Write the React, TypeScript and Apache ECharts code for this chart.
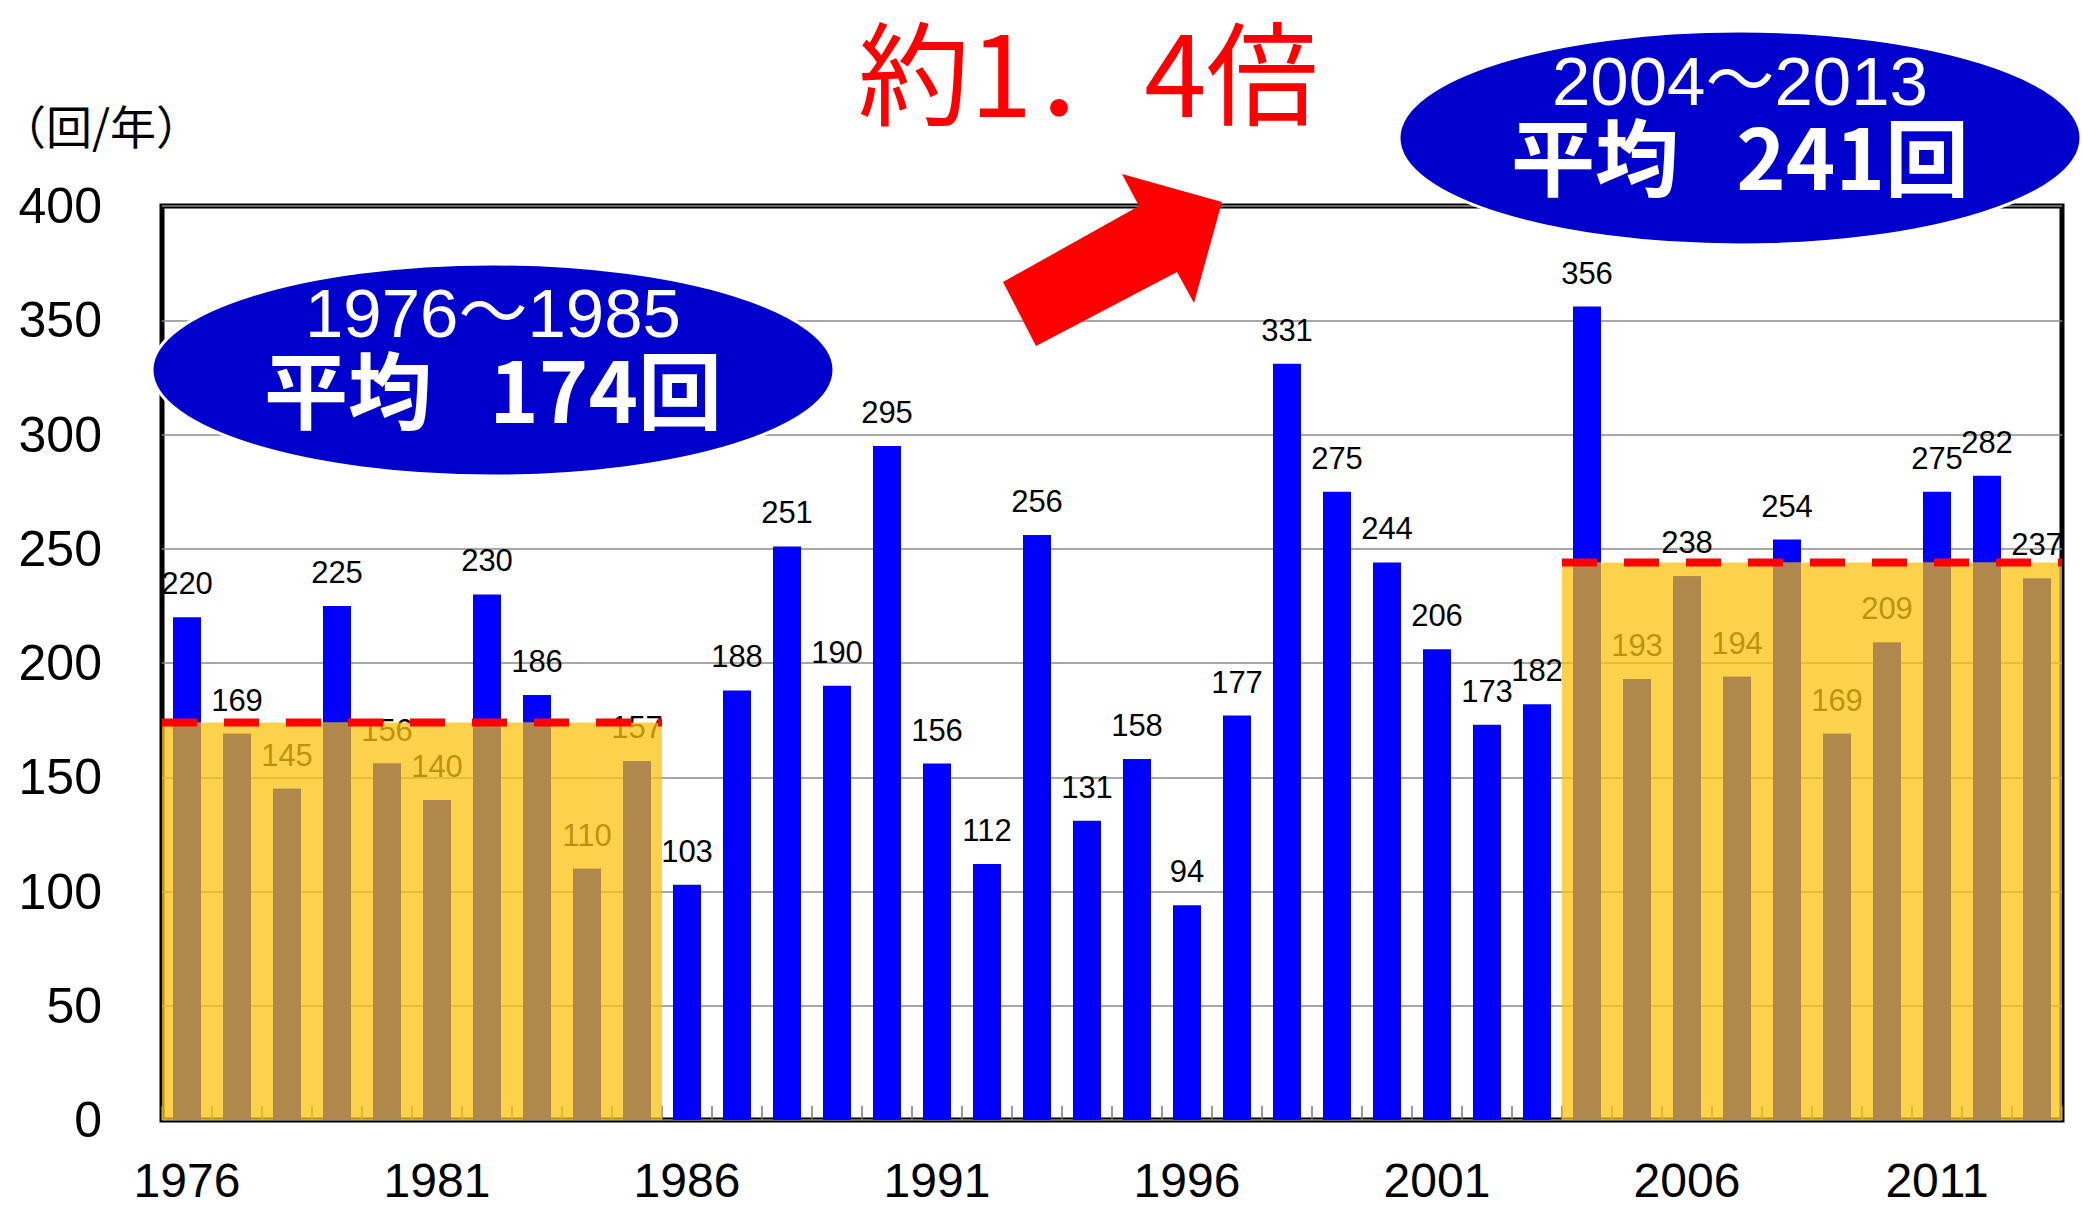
import React, { useEffect, useRef } from "react";
import * as echarts from "echarts";

// ---- data ----
const years = [
  "1976", "1977", "1978", "1979", "1980", "1981", "1982", "1983", "1984", "1985",
  "1986", "1987", "1988", "1989", "1990", "1991", "1992", "1993", "1994", "1995",
  "1996", "1997", "1998", "1999", "2000", "2001", "2002", "2003", "2004", "2005",
  "2006", "2007", "2008", "2009", "2010", "2011", "2012", "2013",
];
const counts = [
  220, 169, 145, 225, 156, 140, 230, 186, 110, 157,
  103, 188, 251, 190, 295, 156, 112, 256, 131, 158,
  94, 177, 331, 275, 244, 206, 173, 182, 356, 193,
  238, 194, 254, 169, 209, 275, 282, 237,
];
const yMin = 0;
const yMax = 400;
const yStep = 50;
const periodStart = ["1976", "2004"];
const periodEnd = ["1985", "2013"];
const periodLevel = [174, 244];
const periodRangeText = ["1976～1985", "2004～2013"];
const periodMeanText = ["平均   174回", "平均   241回"];
const ratioText = "約1．4倍";
const unitText = "（回/年）";

const LATIN = '"Liberation Sans", Arial, "Noto Sans CJK JP", sans-serif';
const CJK = '"Noto Sans CJK JP", "Liberation Sans", sans-serif';

export default function App() {
  const ref = useRef<HTMLDivElement>(null);

  useEffect(() => {
    if (!ref.current) return;
    const chart = echarts.init(ref.current, undefined, { renderer: "svg" });

    const periods = periodStart.map((s, i) => [
      years.indexOf(s),
      years.indexOf(periodEnd[i]),
      periodLevel[i],
    ]);
    const periodOf = (i: number) => periods.find((p) => i >= p[0] && i <= p[1]);
    const clipped = counts.map((v, i) => {
      const p = periodOf(i);
      return p ? Math.min(v, p[2]) : "-";
    });

    const overlay = (params: any, api: any) => {
      const s = api.value(0);
      const e = api.value(1);
      const lvl = api.value(2);
      const bw = api.size([1, 0])[0];
      const top = api.coord([s, lvl]);
      const bottom = api.coord([e, 0]);
      const x0 = top[0] - bw / 2;
      const x1 = bottom[0] + bw / 2;
      return {
        type: "rect",
        shape: { x: x0, y: top[1], width: x1 - x0, height: bottom[1] - top[1] },
        style: { fill: "rgba(251,195,16,0.75)" },
      };
    };

    const dash = (params: any, api: any) => {
      const s = api.value(0);
      const e = api.value(1);
      const lvl = api.value(2);
      const bw = api.size([1, 0])[0];
      const p0 = api.coord([s, lvl]);
      const p1 = api.coord([e, lvl]);
      return {
        type: "line",
        shape: { x1: p0[0] - bw / 2, y1: p0[1], x2: p1[0] + bw / 2, y2: p1[1] },
        style: { stroke: "#FF0000", lineWidth: 8, lineDash: [35, 27] },
      };
    };

    const textEl = (
      x: number,
      y: number,
      text: string,
      size: number,
      lineHeight: number,
      family: string,
      color: string,
      weight: string,
      shadow: boolean,
      align = "center"
    ) => ({
      type: "text",
      z: 101,
      x,
      y,
      silent: true,
      style: {
        text,
        fill: color,
        fontSize: size,
        lineHeight,
        fontFamily: family,
        fontWeight: weight,
        textAlign: align,
        align,
        textVerticalAlign: "middle",
        verticalAlign: "middle",
        ...(shadow
          ? { shadowColor: "rgba(0,0,0,0.55)", shadowBlur: 3, shadowOffsetX: 3, shadowOffsetY: 3 }
          : {}),
      },
    });

    chart.setOption({
      animation: false,
      grid: {
        left: 162,
        right: 21,
        top: 206,
        bottom: 89,
        show: true,
        borderColor: "#000",
        borderWidth: 5,
        backgroundColor: "transparent",
      },
      xAxis: {
        type: "category",
        data: years,
        axisLine: { show: false },
        axisTick: {
          show: true,
          inside: true,
          length: 14,
          interval: 0,
          lineStyle: { color: "#777", width: 1.5 },
        },
        axisLabel: {
          interval: 4,
          fontSize: 48,
          lineHeight: 40,
          color: "#000",
          fontFamily: LATIN,
          margin: 40,
        },
        splitLine: { show: false },
      },
      yAxis: {
        type: "value",
        min: yMin,
        max: yMax,
        interval: yStep,
        axisLine: { show: false },
        axisTick: { show: false },
        axisLabel: { fontSize: 50, color: "#000", fontFamily: LATIN, margin: 60 },
        splitLine: { lineStyle: { color: "#8a8a8a", width: 1.5 } },
      },
      series: [
        {
          type: "bar",
          data: counts,
          barWidth: 28,
          barGap: "-100%",
          itemStyle: { color: "#0000FF" },
          label: {
            show: true,
            position: "top",
            distance: 18,
            fontSize: 31,
            color: "#000",
            fontFamily: LATIN,
          },
          z: 2,
        },
        {
          type: "custom",
          renderItem: overlay,
          data: periods,
          encode: { x: [0, 1], y: 2 },
          z: 3,
          silent: true,
        },
        {
          type: "bar",
          data: clipped,
          barWidth: 28,
          barGap: "-100%",
          itemStyle: { color: "#B0884C" },
          z: 4,
          silent: true,
        },
        {
          type: "custom",
          renderItem: dash,
          data: periods,
          encode: { x: [0, 1], y: 2 },
          z: 5,
          silent: true,
        },
      ],
      graphic: [
        {
          type: "polygon",
          z: 100,
          silent: true,
          shape: {
            points: [
              [1003, 282],
              [1139, 206],
              [1122, 174],
              [1222, 202],
              [1194, 303],
              [1177, 272],
              [1036, 346],
            ],
          },
          style: { fill: "#FF0000" },
        },
        {
          type: "ellipse",
          z: 100,
          silent: true,
          shape: { cx: 493, cy: 370, rx: 341, ry: 106 },
          style: { fill: "#0000CC", stroke: "#ffffff", lineWidth: 3 },
        },
        {
          type: "ellipse",
          z: 100,
          silent: true,
          shape: { cx: 1740, cy: 138, rx: 341, ry: 107 },
          style: { fill: "#0000CC", stroke: "#ffffff", lineWidth: 3 },
        },
        textEl(493, 313, periodRangeText[0], 69, 54, LATIN, "#fff", "normal", false),
        textEl(493, 386, periodMeanText[0], 84, 70, CJK, "#fff", "bold", true),
        textEl(1740, 81, periodRangeText[1], 69, 54, LATIN, "#fff", "normal", false),
        textEl(1740, 153, periodMeanText[1], 84, 70, CJK, "#fff", "bold", true),
        textEl(858, 68, ratioText, 112, 100, CJK, "#FF0000", "normal", false, "left"),
        textEl(0, 124, unitText, 46, 46, CJK, "#000", "normal", false, "left"),
      ],
    });

    return () => chart.dispose();
  }, []);

  return (
    <div
      ref={ref}
      style={{ position: "fixed", left: 0, top: 0, width: 2083, height: 1209, background: "#fff" }}
    />
  );
}
